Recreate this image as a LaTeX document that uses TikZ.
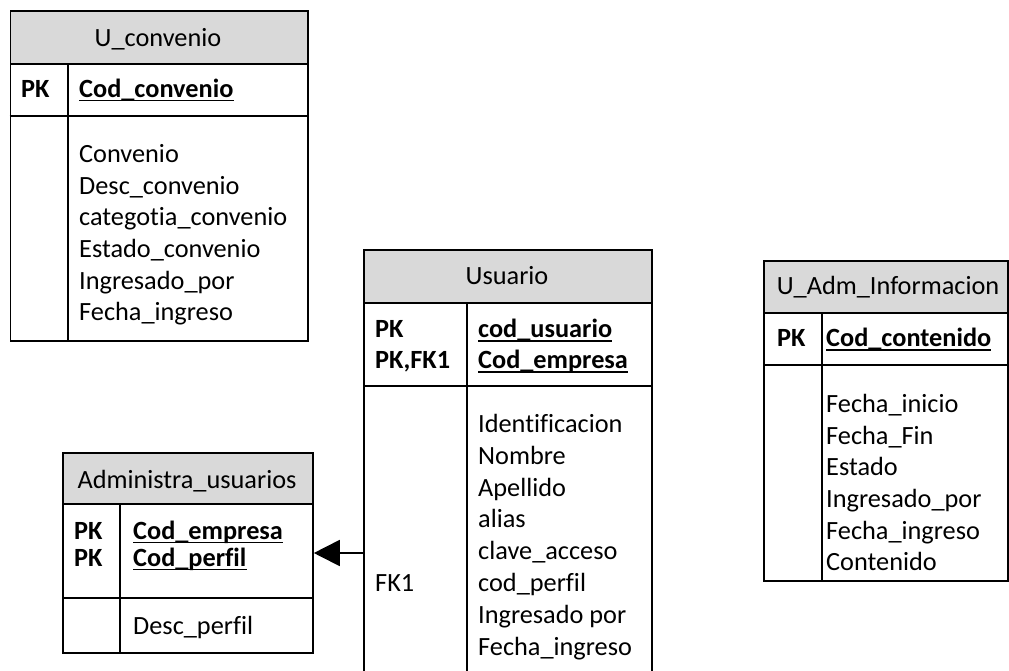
\documentclass[tikz,border=0pt]{standalone}
\usepackage{fontspec}
\setmainfont{Carlito}[Ligatures={NoCommon}]
\usetikzlibrary{arrows.meta}
\definecolor{hdrgray}{RGB}{217,217,217}
\begin{document}
\begin{tikzpicture}[x=1pt,y=-1pt,
  hdrbox/.style={draw, line width=1.8pt, fill=hdrgray, inner sep=0pt, anchor=north west},
  bodybox/.style={draw, line width=1.8pt, inner sep=0pt, anchor=north west},
  sep/.style={line width=1.8pt},
  txt/.style={inner sep=0pt, anchor=base west, font=\fontsize{26.3}{31}\selectfont},
  txtb/.style={txt, font=\fontsize{26.3}{31}\selectfont\bfseries},
  ttl/.style={inner sep=0pt, anchor=base, font=\fontsize{26.3}{31}\selectfont},
  ul/.style={line width=1.6pt},
  conn/.style={line width=1.8pt, -{Triangle[length=26pt,width=26pt]}}]
\useasboundingbox (0,0) rectangle (1009,670);
\clip (0,0) rectangle (1009,670);

% ---------- U_convenio ----------
\node[hdrbox, minimum width=297.5pt, minimum height=53pt] (uc-h) at (9.5,10) {};
\node[bodybox, minimum width=297.5pt, minimum height=277pt] (uc-b) at (9.5,63) {};
\draw[sep] (9.5,116) -- (307,116);
\draw[sep] (68,63) -- (68,340);
\node[ttl] (uc-t) at (158,46) {U\_convenio};
\node[txtb] (uc-k) at (21,97) {PK};
\node[txtb] (uc-pk) at (79,97) {Cod\_convenio};
\draw[ul] ([yshift=-3.5pt]uc-pk.base west) -- ([yshift=-3.5pt]uc-pk.base east);
\foreach \t [count=\i] in {Convenio, Desc\_convenio, categotia\_convenio, Estado\_convenio, Ingresado\_por, Fecha\_ingreso}
  \node[txt] (uc-a\i) at (79,162.7+31.6*\i-31.6) {\t};

% ---------- Usuario ----------
\node[hdrbox, minimum width=288pt, minimum height=53pt] (us-h) at (363,249) {};
\node[bodybox, minimum width=288pt, minimum height=420pt] (us-b) at (363,302) {};
\draw[sep] (363,386) -- (651,386);
\draw[sep] (467,302) -- (467,700);
\node[ttl] (us-t) at (507,284) {Usuario};
\node[txtb] (us-k1) at (375,337.3) {PK};
\node[txtb] (us-k2) at (375,368.3) {PK,FK1};
\node[txtb] (us-p1) at (478,337.3) {cod\_usuario};
\node[txtb] (us-p2) at (478,368.3) {Cod\_empresa};
\draw[ul] ([yshift=-3.5pt]us-p1.base west) -- ([yshift=-3.5pt]us-p1.base east);
\draw[ul] ([yshift=-3.5pt]us-p2.base west) -- ([yshift=-3.5pt]us-p2.base east);
\foreach \t [count=\i] in {Identificacion, Nombre, Apellido, alias, clave\_acceso, cod\_perfil, Ingresado por, Fecha\_ingreso}
  \node[txt] (us-a\i) at (478,432.7+31.76*\i-31.76) {\t};
\node[txt] (us-fk) at (375,591.5) {FK1};

% ---------- Administra_usuarios ----------
\node[hdrbox, minimum width=250pt, minimum height=51pt] (ad-h) at (62,452) {};
\node[bodybox, minimum width=250pt, minimum height=149pt] (ad-b) at (62,503) {};
\draw[sep] (62,598) -- (312,598);
\draw[sep] (120,503) -- (120,652);
\node[ttl] (ad-t) at (187,488) {Administra\_usuarios};
\node[txtb] (ad-k1) at (74,539) {PK};
\node[txtb] (ad-k2) at (74,566) {PK};
\node[txtb] (ad-p1) at (133,539) {Cod\_empresa};
\node[txtb] (ad-p2) at (133,566) {Cod\_perfil};
\draw[ul] ([yshift=-3.5pt]ad-p1.base west) -- ([yshift=-3.5pt]ad-p1.base east);
\draw[ul] ([yshift=-3.5pt]ad-p2.base west) -- ([yshift=-3.5pt]ad-p2.base east);
\node[txt] (ad-a1) at (133,634) {Desc\_perfil};

% ---------- U_Adm_Informacion ----------
\node[hdrbox, minimum width=244pt, minimum height=52pt] (ui-h) at (763,260) {};
\node[bodybox, minimum width=244pt, minimum height=268pt] (ui-b) at (763,312) {};
\draw[sep] (763,365) -- (1007,365);
\draw[sep] (822,312) -- (822,580);
\node[ttl] (ui-t) at (888,294) {U\_Adm\_Informacion};
\node[txtb] (ui-k) at (777,346.7) {PK};
\node[txtb] (ui-pk) at (826,346.7) {Cod\_contenido};
\draw[ul] ([yshift=-3.5pt]ui-pk.base west) -- ([yshift=-3.5pt]ui-pk.base east);
\foreach \t [count=\i] in {Fecha\_inicio, Fecha\_Fin, Estado, Ingresado\_por, Fecha\_ingreso, Contenido}
  \node[txt] (ui-a\i) at (826,412.7+31.6*\i-31.6) {\t};

% ---------- connector ----------
\coordinate (arr) at (0,553);
\draw[conn] (us-b.west |- arr) -- (ad-b.east |- arr);
\end{tikzpicture}
\end{document}
